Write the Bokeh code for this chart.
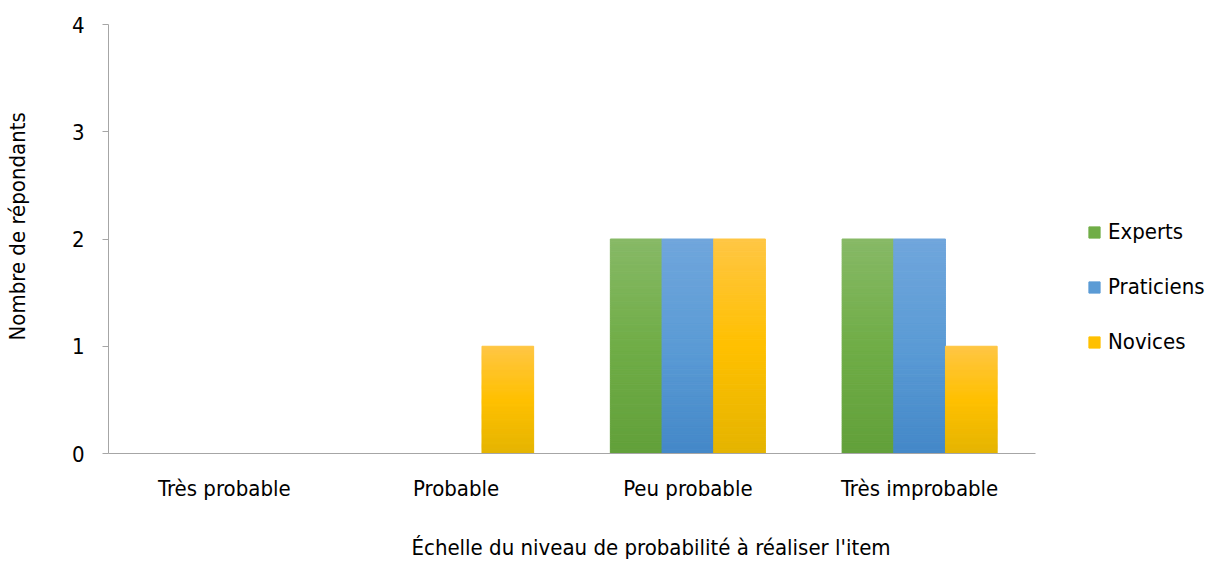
from bokeh.plotting import figure
from bokeh.models import ColumnDataSource, Legend, LegendItem, FactorRange, Title
from bokeh.transform import dodge
from bokeh.embed import file_html
from bokeh.resources import INLINE

categories = ["Très probable", "Probable", "Peu probable", "Très improbable"]
series = ["Experts", "Praticiens", "Novices"]
experts = [0, 0, 2, 2]
praticiens = [0, 0, 2, 2]
novices = [0, 1, 2, 1]
values = [experts, praticiens, novices]
x_title = "Échelle du niveau de probabilité à réaliser l'item"
y_title = "Nombre de répondants"

# gradient stops: (bottom, middle, top)
grad = [
    ((98, 160, 58), (112, 173, 71), (135, 185, 102)),
    ((68, 136, 200), (91, 155, 213), (112, 166, 220)),
    ((228, 180, 0), (255, 192, 0), (255, 198, 68)),
]
offsets = [-0.223, 0.0, 0.223]
FONT = "'DejaVu Sans Condensed', 'Liberation Sans Narrow', 'Roboto'"

p = figure(x_range=FactorRange(*categories), y_range=(0, 4),
           frame_width=927, frame_height=429,
           output_backend="svg", toolbar_location=None,
           min_border_left=108, min_border_top=24, min_border_right=160, min_border_bottom=20)
p.x_range.range_padding = 0
p.outline_line_color = None
p.grid.grid_line_color = None
p.background_fill_color = "white"


def lerp(a, b, t):
    return tuple(a[k] + (b[k] - a[k]) * t for k in range(3))


def color_at(stops, t):
    if t < 0.5:
        c = lerp(stops[0], stops[1], t / 0.5)
    else:
        c = lerp(stops[1], stops[2], (t - 0.5) / 0.5)
    return "#%02x%02x%02x" % tuple(int(round(v)) for v in c)


N = 100
legend_items = []
for s, name in enumerate(series):
    xs, tops, bots, cols = [], [], [], []
    for c, cat in enumerate(categories):
        v = values[s][c]
        if v <= 0:
            continue
        for i in range(N):
            xs.append(cat)
            bots.append(v * i / N)
            tops.append(v * (i + 1) / N)
            cols.append(color_at(grad[s], (i + 0.5) / N))
    src = ColumnDataSource(dict(x=xs, top=tops, bottom=bots, color=cols))
    r = p.vbar(x=dodge("x", offsets[s], range=p.x_range), top="top", bottom="bottom",
               width=0.223, source=src, fill_color="color", line_color="color", line_width=1)
    mid = N // 2
    legend_items.append(LegendItem(label=name, renderers=[r], index=mid))

legend = Legend(items=legend_items, location=(52, 99), orientation="vertical",
                glyph_width=14, glyph_height=14, label_height=20, spacing=30,
                padding=0, margin=0, border_line_color=None, background_fill_alpha=0,
                label_text_font=FONT, label_text_font_size="22px", label_text_color="#000000",
                label_standoff=7)
p.add_layout(legend, "right")

p.yaxis.ticker = [0, 1, 2, 3, 4]
p.yaxis.axis_line_color = "#a6a6a6"
p.yaxis.major_tick_line_color = "#a6a6a6"
p.yaxis.major_tick_out = 6
p.yaxis.major_tick_in = 0
p.yaxis.minor_tick_line_color = None
p.yaxis.major_label_standoff = 18

p.xaxis.axis_line_color = "#a6a6a6"
p.xaxis.major_tick_line_color = None
p.xaxis.major_label_standoff = 16

for ax in (p.xaxis, p.yaxis):
    ax.major_label_text_font = FONT
    ax.major_label_text_font_size = "22px"
    ax.major_label_text_color = "#000000"

# spacers between axes and titles
p.add_layout(Title(text=" ", standoff=34, text_font_size="1px"), "left")
p.add_layout(Title(text=" ", standoff=28, text_font_size="1px"), "below")

yt = Title(text=y_title, align="left", vertical_align="top", offset=113, standoff=0,
           text_font=FONT, text_font_size="22px", text_font_style="normal", text_color="#000000")
p.add_layout(yt, "left")
xt = Title(text=x_title, align="left", vertical_align="top", offset=303, standoff=0,
           text_font=FONT, text_font_size="22px", text_font_style="normal", text_color="#000000")
p.add_layout(xt, "below")

open("out.html", "w").write(file_html(p, INLINE))
